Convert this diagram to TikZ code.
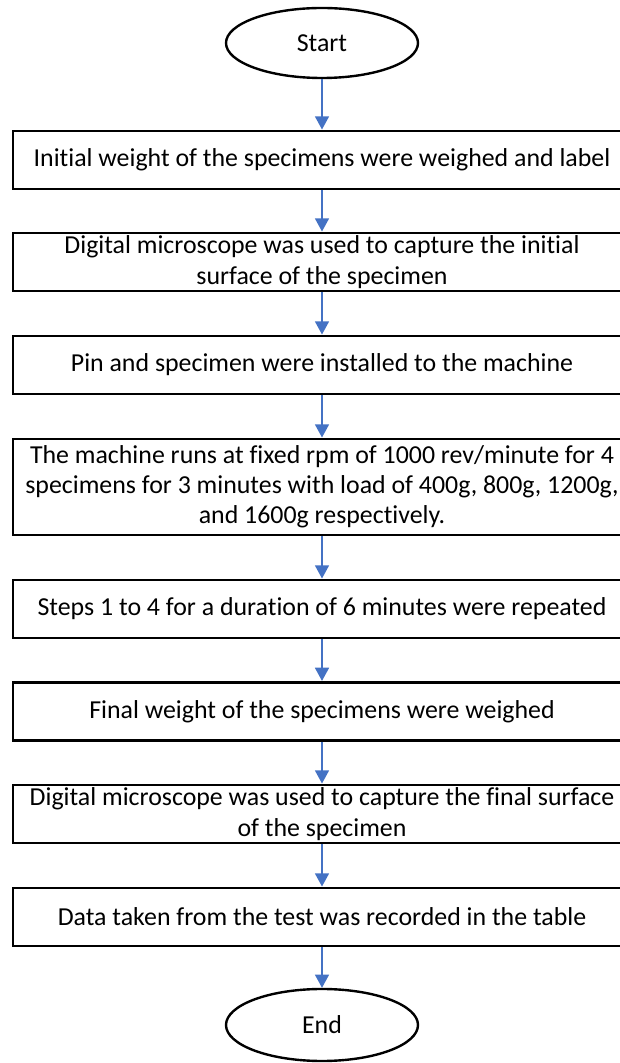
\documentclass[tikz,border=0pt]{standalone}
\usepackage{fontspec}
\setmainfont{Carlito}[Ligatures=NoCommon]
\usepackage{tikz}
\usetikzlibrary{shapes.geometric,arrows.meta}
\definecolor{FCBlue}{HTML}{4472C4}

\begin{document}
\begin{tikzpicture}[x=1cm,y=1cm,
  procbox/.style={draw=black,line width=2.1pt,minimum width=15.45cm,minimum height=1.45cm,align=center,inner sep=2pt,font=\fontsize{18.4}{21.5}\selectfont},
  termnode/.style={ellipse,draw=black,line width=1.7pt,minimum width=4.8cm,minimum height=1.75cm,inner sep=0pt,font=\fontsize{18.4}{21.5}\selectfont},
  flowarrow/.style={FCBlue,line width=1.1pt,-{Triangle[width=0.35cm,length=0.33cm]}}]
\clip (0,0) rectangle (15.50,26.575);
\node[termnode] (start) at (8.05,25.50) {Start};
\node[procbox] (s1) at (8.05,22.575) {Initial weight of the specimens were weighed and label};
\node[procbox] (s2) at (8.05,20.025) {Digital microscope was used to capture the initial\\surface of the specimen};
\node[procbox] (s3) at (8.05,17.45) {Pin and specimen were installed to the machine};
\node[procbox,minimum height=2.40cm] (s4) at (8.05,14.40) {The machine runs at fixed rpm of 1000 rev/minute for 4\\specimens for 3 minutes with load of 400g, 800g, 1200g,\\and 1600g respectively.};
\node[procbox] (s5) at (8.05,11.35) {Steps 1 to 4 for a duration of 6 minutes were repeated};
\node[procbox] (s6) at (8.05,8.79) {Final weight of the specimens were weighed};
\node[procbox] (s7) at (8.05,6.225) {Digital microscope was used to capture the final surface\\of the specimen};
\node[procbox] (s8) at (8.05,3.65) {Data taken from the test was recorded in the table};
\node[termnode,minimum height=1.80cm] (stop) at (8.05,0.95) {End};
\foreach \a/\b in {start/s1,s1/s2,s2/s3,s3/s4,s4/s5,s5/s6,s6/s7,s7/s8,s8/stop}
  \draw[flowarrow] (\a) -- (\b);
\end{tikzpicture}
\end{document}
